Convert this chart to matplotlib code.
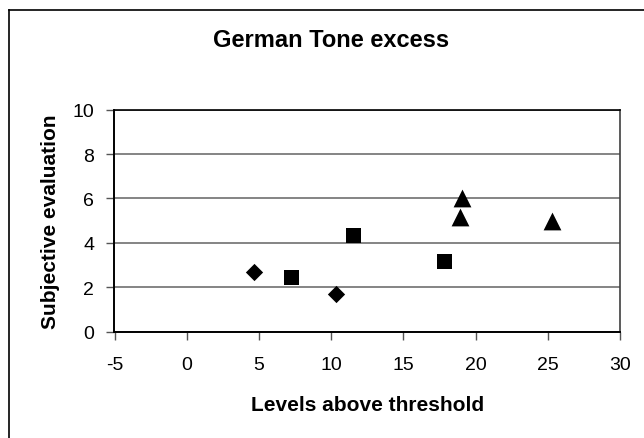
import matplotlib
matplotlib.use("Agg")
import matplotlib.pyplot as plt
from matplotlib.lines import Line2D

plt.rcParams['font.family'] = ['Liberation Sans', 'DejaVu Sans']

# Data
diamond_x = [4.63, 10.31]
diamond_y = [2.68, 1.67]
square_x = [7.19, 11.49, 17.81]
square_y = [2.45, 4.37, 3.16]
triangle_x = [19.03, 18.9, 25.31]
triangle_y = [6.01, 5.17, 4.96]

x_ticks = [-5, 0, 5, 10, 15, 20, 25, 30]
y_ticks = [0, 2, 4, 6, 8, 10]

title = "German Tone excess"
xlabel = "Levels above threshold"
ylabel = "Subjective evaluation"

W, H = 644, 439
fig = plt.figure(figsize=(W / 100, H / 100), dpi=100)

# Chart area border (left and top visible)
fig.add_artist(Line2D([8.5 / W, 8.5 / W], [0, 1 - 11 / H], transform=fig.transFigure,
                      color='black', lw=1.2))
fig.add_artist(Line2D([8.5 / W, 1], [1 - 11 / H, 1 - 11 / H], transform=fig.transFigure,
                      color='black', lw=1.2))

left, right = 114.5 / W, 620 / W
bottom, top = (H - 332.5) / H, (H - 110.7) / H
ax = fig.add_axes([left, bottom, right - left, top - bottom])

ax.scatter(diamond_x, diamond_y, marker='D', s=8.8 ** 2, color='black', zorder=3, linewidths=0)
ax.scatter(square_x, square_y, marker='s', s=10.8 ** 2, color='black', zorder=3, linewidths=0)
ax.scatter(triangle_x, triangle_y, marker='^', s=12.8 ** 2, color='black', zorder=3, linewidths=0)

ax.set_xlim(-5, 30)
ax.set_ylim(0, 10)
ax.set_xticks(x_ticks)
ax.set_yticks(y_ticks)
ax.set_xticklabels([str(v) for v in x_ticks])
ax.set_yticklabels([str(v) for v in y_ticks])
ax.tick_params(axis='both', labelsize=14, direction='out', length=6, width=1,
               color='#555555')
ax.tick_params(axis='x', pad=11.5)
ax.tick_params(axis='y', pad=8.5)

ax.yaxis.grid(True, color='#707070', lw=1.2)
ax.set_axisbelow(True)

ax.spines['left'].set_color('black')
ax.spines['bottom'].set_color('black')
ax.spines['left'].set_linewidth(1.4)
ax.spines['bottom'].set_linewidth(1.4)
ax.spines['top'].set_color('black')
ax.spines['top'].set_linewidth(1.2)
ax.spines['right'].set_color('#404040')
ax.spines['right'].set_linewidth(1.2)

ax.set_xlabel(xlabel, fontsize=15, fontweight='bold', labelpad=16)
ax.set_ylabel(ylabel, fontsize=15, fontweight='bold', labelpad=9)

fig.text(331 / W, 1 - 40.5 / H, title, ha='center', va='center', fontsize=17, fontweight='bold')

fig.savefig("out.png", dpi=100)
